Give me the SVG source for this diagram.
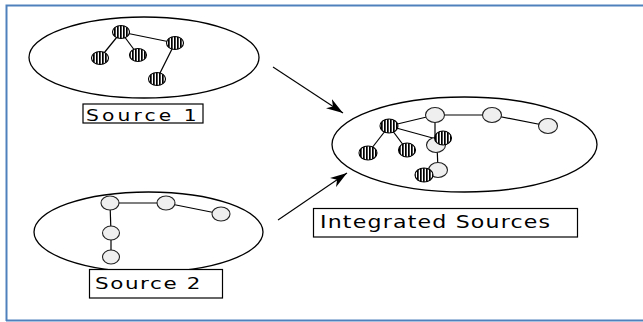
<svg xmlns="http://www.w3.org/2000/svg" width="643" height="322" viewBox="0 0 643 322">
<defs>
<pattern id="hatch" patternUnits="userSpaceOnUse" width="3" height="3">
<rect width="3" height="3" fill="#fff"/>
<rect width="1.7" height="3" fill="#000"/>
</pattern>
<marker id="arr" markerUnits="userSpaceOnUse" markerWidth="20" markerHeight="12" refX="17" refY="6" orient="auto">
<path d="M0,0.5 L17,6 L0,11.5 L5,6 Z" fill="#000"/>
</marker>
</defs>
<style>
.cloud{fill:#fff;stroke:#000;stroke-width:1.3}
.edge{stroke:#000;stroke-width:1.2;fill:none}
.h{fill:url(#hatch);stroke:#000;stroke-width:1.1}
.g{fill:#efefef;stroke:#222;stroke-width:1.1}
.lbl{fill:#fff;stroke:#000;stroke-width:1.2}
.t{font-family:"DejaVu Sans",sans-serif;fill:#000}
.conn{stroke:#000;stroke-width:1.1;fill:none}
</style>
<rect x="0" y="0" width="643" height="322" fill="#fff"/>
<path d="M6.5,321 V5.5 H643" fill="none" stroke="#4f81bd" stroke-width="2"/>
<line x1="6" y1="320.5" x2="643" y2="320.5" stroke="#4f81bd" stroke-width="2"/>

<g id="connectors">
<line class="conn" x1="273" y1="67" x2="343" y2="113" marker-end="url(#arr)"/>
<line class="conn" x1="278" y1="220" x2="347" y2="173" marker-end="url(#arr)"/>
</g>

<g id="source1">
<ellipse class="cloud" cx="144" cy="57.5" rx="115" ry="40.5"/>
<line class="edge" x1="121" y1="32" x2="100" y2="58"/>
<line class="edge" x1="121" y1="32" x2="138" y2="55"/>
<line class="edge" x1="121" y1="32" x2="175" y2="43"/>
<line class="edge" x1="175" y1="43" x2="157" y2="79"/>
<ellipse class="h" cx="121" cy="32" rx="8.5" ry="6.5"/>
<ellipse class="h" cx="175" cy="43" rx="8.5" ry="6.5"/>
<ellipse class="h" cx="100" cy="58" rx="8.5" ry="6.5"/>
<ellipse class="h" cx="138" cy="55" rx="8.5" ry="6.5"/>
<ellipse class="h" cx="157" cy="79" rx="8.5" ry="6.5"/>
</g>

<g id="source1-label">
<rect class="lbl" x="83" y="104" width="120" height="19"/>
<text class="t" transform="translate(86,120.5) scale(1.35,1)" x="0" y="0" font-size="15" textLength="82" lengthAdjust="spacing">Source 1</text>
</g>

<g id="source2">
<ellipse class="cloud" cx="148.5" cy="232" rx="114.5" ry="40"/>
<line class="edge" x1="110" y1="203" x2="166" y2="203"/>
<line class="edge" x1="166" y1="203" x2="221" y2="214"/>
<line class="edge" x1="110" y1="203" x2="111" y2="233"/>
<line class="edge" x1="111" y1="233" x2="111" y2="257"/>
<ellipse class="g" cx="110" cy="203" rx="9" ry="7"/>
<ellipse class="g" cx="166" cy="203" rx="9" ry="7"/>
<ellipse class="g" cx="221" cy="214" rx="9" ry="7"/>
<ellipse class="g" cx="111" cy="233" rx="8.5" ry="7"/>
<ellipse class="g" cx="111" cy="257" rx="8.5" ry="7"/>
</g>

<g id="source2-label">
<rect class="lbl" x="89.5" y="269.5" width="133" height="28.5"/>
<text class="t" transform="translate(95,289) scale(1.3,1)" x="0" y="0" font-size="16.5" textLength="81" lengthAdjust="spacing">Source 2</text>
</g>

<g id="integrated">
<ellipse class="cloud" cx="464.5" cy="144.5" rx="132.5" ry="47.5"/>
<line class="edge" x1="389" y1="126" x2="435" y2="115"/>
<line class="edge" x1="435" y1="115" x2="492" y2="115"/>
<line class="edge" x1="492" y1="115" x2="548" y2="126"/>
<line class="edge" x1="435" y1="115" x2="435" y2="145"/>
<line class="edge" x1="389" y1="126" x2="440" y2="140"/>
<line class="edge" x1="389" y1="126" x2="368" y2="153"/>
<line class="edge" x1="389" y1="126" x2="407" y2="150"/>
<line class="edge" x1="437" y1="145" x2="438" y2="170"/>
<ellipse class="g" cx="435" cy="115" rx="9.5" ry="7.5"/>
<ellipse class="g" cx="492" cy="115" rx="9.5" ry="7.5"/>
<ellipse class="g" cx="548" cy="126" rx="9.5" ry="7.5"/>
<ellipse class="g" cx="436" cy="145" rx="9.5" ry="7.5"/>
<ellipse class="g" cx="438" cy="170" rx="9.5" ry="7.5"/>
<ellipse class="h" cx="389" cy="126" rx="9" ry="7"/>
<ellipse class="h" cx="368" cy="153" rx="9" ry="7"/>
<ellipse class="h" cx="407" cy="150" rx="8.5" ry="7"/>
<ellipse class="h" cx="443" cy="138" rx="8.5" ry="7"/>
<ellipse class="h" cx="424" cy="175" rx="9" ry="7"/>
</g>

<g id="integrated-label">
<rect class="lbl" x="313.5" y="208.5" width="264" height="28.5"/>
<text class="t" transform="translate(320,227.5) scale(1.3,1)" x="0" y="0" font-size="17" textLength="177" lengthAdjust="spacing">Integrated Sources</text>
</g>
</svg>
